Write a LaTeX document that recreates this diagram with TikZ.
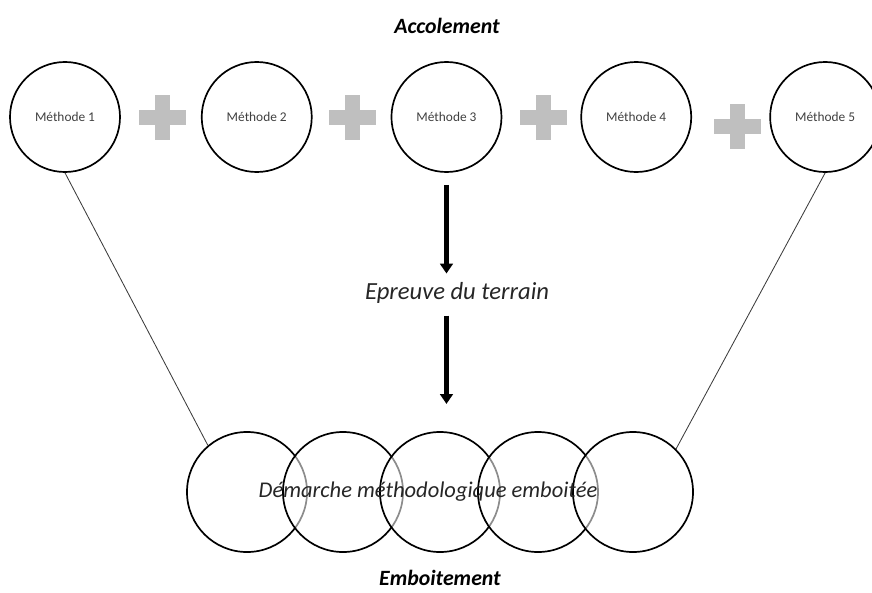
\documentclass[tikz,border=0pt]{standalone}
\usepackage{fontspec}
\setmainfont{Carlito}
\usepackage{xcolor}
\usepackage{tikz}
\usetikzlibrary{positioning,arrows.meta}
\definecolor{PlusGray}{RGB}{191,191,191}
\definecolor{LabelGray}{RGB}{64,64,64}
\definecolor{LineGray}{RGB}{60,60,60}

\begin{document}
\begin{tikzpicture}[
  x=0.025cm, y=-0.025cm,
  method/.style={circle, draw=black, line width=1.2pt, minimum size=2.75cm, inner sep=0pt,
    font=\fontsize{9.5}{11}\selectfont, text=LabelGray},
  nest/.style={circle, draw=black, line width=1.2pt, minimum size=3cm, inner sep=0pt,
    fill=white, fill opacity=0.55},
  title/.style={font=\fontsize{15.5}{18}\selectfont\bfseries\itshape},
  caption/.style={font=\fontsize{16}{19}\selectfont\itshape, text=black!85},
  link/.style={line width=0.6pt, color=LineGray},
  arrow/.style={-{Triangle[length=7pt, width=9pt]}, line width=3pt},
  pics/plussign/.style={code={
    \fill[PlusGray] (-23.5,-7.5) rectangle (23.5,7.5);
    \fill[PlusGray] (-7.5,-22.5) rectangle (7.5,22.5);
  }}
]
\useasboundingbox (0,0) rectangle (872,592);

% top row
\node[title] (accol) at (447,26) {Accolement};
\node[method] (m1) at (65,117) {Méthode 1};
\node[method, right=2.0cm of m1] (m2) {Méthode 2};
\node[method, right=1.95cm of m2] (m3) {Méthode 3};
\node[method, right=1.95cm of m3] (m4) {Méthode 4};
\node[method, right=1.93cm of m4] (m5) {Méthode 5};
\pic at (162,117) {plussign};
\pic at (352,117) {plussign};
\pic at (543,117) {plussign};
\pic at (737,126) {plussign};

% field test
\node[caption, font=\fontsize{17.5}{20}\selectfont\itshape] (terrain) at (457,293) {Epreuve du terrain};

% bottom row
\node[nest] (e1) at (247,492) {};
\node[nest] (e2) at (343,492) {};
\node[nest] (e3) at (440,492) {};
\node[nest] (e4) at (538,492) {};
\node[nest] (e5) at (633,492) {};
\node[caption, xshift=-0.3cm] (demarche) at (e3) {Démarche méthodologique emboitée};
\node[title] (embo) at (440,578) {Emboitement};

\draw[link] (m1.south) -- (e1.130);
\draw[link] (m5.south) -- (e5.45);
\draw[arrow, shorten <=0.3cm, shorten >=0.1cm] (m3.south) -- (m3.south |- terrain.north);
\draw[arrow, shorten <=0.18cm, shorten >=0.68cm] (m3.south |- terrain.south) -- (m3.south |- e3.north);
\end{tikzpicture}
\end{document}
